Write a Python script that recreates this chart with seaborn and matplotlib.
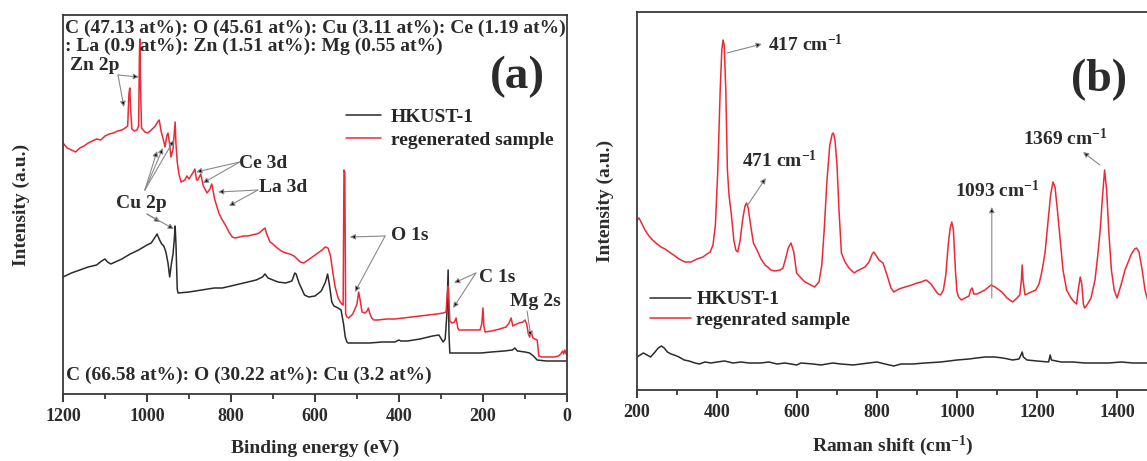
import numpy as np
import pandas as pd
import seaborn as sns
import matplotlib.pyplot as plt
from matplotlib.ticker import MultipleLocator

# ---- (a) XPS survey: binding energy (eV) vs intensity (a.u.)
xps_hkust_x = [1200, 1180, 1160, 1140, 1120, 1108, 1100, 1094, 1086, 1060, 1040, 1020, 1000, 990, 982, 976,
               970, 965, 960, 955, 950, 946, 942, 938, 935, 933, 931, 928, 926, 900, 870, 840, 821, 800, 780,
               760, 740, 725, 719, 712, 700, 688, 670, 655, 648, 645, 638, 625, 615, 600, 585, 575, 570, 566,
               560, 555, 545, 538, 532, 528, 524, 521, 500, 470, 440, 410, 400, 396, 380, 350, 320, 305, 295,
               290, 286, 283, 281, 279, 260, 240, 205, 180, 150, 130, 124, 118, 100, 89, 80, 71, 50, 30, 10, 0]
xps_hkust_y = [117, 121, 124, 127, 129, 133, 135, 132, 130, 135, 140, 144, 149, 151, 156, 160,
               154, 150, 148, 142, 131, 117, 130, 140, 155, 168, 150, 105, 101, 102, 104, 106, 106, 108, 110,
               112, 114, 117, 120, 116, 114, 112, 111, 113, 121, 120, 111, 99, 97, 98, 103, 112, 120, 110,
               92, 88, 86, 84, 70, 57, 52, 51, 51, 51, 52, 52, 54, 53, 53, 55, 58, 59, 52,
               55, 80, 124, 60, 41, 41, 41, 41, 42, 43, 44, 46, 43, 42, 41, 38, 34, 33, 33, 33, 33]

xps_regen_x = [1200, 1190, 1180, 1170, 1160, 1150, 1140, 1130, 1120, 1110, 1100, 1090, 1080, 1070, 1060,
               1052, 1046, 1043, 1041, 1039, 1036, 1030, 1024, 1020, 1018, 1017, 1015, 1013, 1005, 998, 990,
               980, 975, 971, 966, 962, 957, 953, 950, 946, 943, 938, 935, 933, 931, 928, 924, 919, 910, 905,
               900, 891, 886, 882, 879, 872, 866, 862, 857, 850, 846, 843, 839, 834, 829, 822, 812, 805, 797,
               790, 780, 770, 760, 750, 740, 733, 725, 719, 715, 707, 700, 690, 680, 670, 660, 650, 645, 635,
               627, 620, 610, 600, 590, 583, 576, 569, 563, 557, 552, 545, 540, 536, 533, 531, 529, 527, 524,
               520, 510, 500, 496, 493, 488, 481, 476, 473, 469, 465, 460, 450, 430, 410, 390, 370, 350, 330,
               310, 295, 288, 285, 283, 281, 279, 274, 268, 264, 260, 257, 240, 220, 207, 203, 200, 198, 195,
               180, 160, 145, 138, 133, 129, 120, 114, 105, 100, 96, 92, 89, 85, 81, 76, 71, 67, 60, 50, 40,
               30, 20, 15, 10, 8, 5, 2, 0]
xps_regen_y = [251, 246, 244, 242, 246, 248, 251, 253, 255, 254, 258, 260, 261, 263, 264,
               266, 268, 300, 306, 285, 265, 263, 264, 268, 340, 355, 300, 266, 262, 261, 264,
               268, 272, 274, 262, 256, 247, 258, 261, 250, 237, 245, 262, 272, 250, 232, 220, 212, 214, 218,
               215, 221, 225, 214, 214, 220, 208, 205, 201, 205, 210, 204, 195, 188, 181, 175, 168, 162, 157,
               156, 157, 158, 158, 159, 160, 161, 164, 166, 160, 152, 150, 146, 143, 141, 140, 138, 136, 132,
               131, 133, 136, 139, 142, 144, 147, 146, 138, 120, 107, 96, 92, 90, 89, 224, 222, 80, 77,
               76, 80, 90, 102, 95, 82, 81, 83, 86, 80, 76, 74, 74, 75, 75, 76, 77, 78, 79,
               80, 81, 82, 100, 108, 92, 73, 71, 72, 76, 66, 64, 64, 64, 64, 70, 86, 68, 62,
               63, 65, 67, 71, 76, 68, 70, 71, 72, 74, 70, 60, 57, 62, 56, 55, 54, 38, 37, 37, 37,
               37, 38, 40, 43, 40, 44, 40, 39]

# ---- (b) Raman: shift (cm-1) vs intensity (a.u.)
raman_hkust_x = [200, 208, 216, 225, 234, 245, 253, 261, 268, 276, 285, 293, 305, 318, 330, 345, 356, 370,
                 385, 400, 419, 440, 460, 480, 509, 530, 550, 570, 599, 610, 640, 660, 689, 710, 740, 760,
                 779, 800, 820, 842, 860, 890, 920, 959, 980, 1000, 1030, 1049, 1070, 1094, 1115, 1139,
                 1155, 1160, 1163, 1166, 1175, 1200, 1229, 1233, 1236, 1260, 1290, 1319, 1350, 1380, 1410,
                 1440, 1463, 1480]
raman_hkust_y = [33, 35, 37, 35, 33, 38, 42, 44, 42, 38, 36, 35, 33, 30, 29, 27, 26, 28,
                 27, 28, 29, 27, 28, 27, 27, 28, 26, 27, 25, 27, 26, 25, 27, 26, 25, 26,
                 27, 28, 26, 24, 26, 26, 27, 28, 29, 30, 31, 32, 33, 33, 32, 30,
                 31, 35, 38, 33, 30, 29, 28, 35, 30, 28, 28, 27, 27, 27, 28,
                 27, 27, 27]

raman_regen_x = [200, 205, 210, 220, 230, 239, 250, 260, 270, 284, 295, 305, 320, 335, 350, 365, 375, 383,
                 390, 396, 402, 408, 412, 415, 418, 422, 426, 430, 436, 442, 447, 452, 458, 464, 470, 474,
                 478, 484, 491, 500, 510, 520, 527, 535, 545, 558, 565, 572, 578, 585, 592, 599, 610, 620,
                 630, 644, 655, 662, 668, 675, 682, 688, 691, 695, 700, 705, 711, 720, 730, 743, 750, 760,
                 770, 780, 788, 792, 797, 805, 815, 825, 835, 842, 855, 870, 887, 900, 910, 923, 935, 945,
                 953, 959, 966, 972, 978, 983, 987, 991, 996, 1000, 1004, 1011, 1020, 1030, 1034, 1038, 1042,
                 1050, 1060, 1070, 1085, 1095, 1105, 1112, 1125, 1139, 1150, 1157, 1161, 1163, 1165, 1170,
                 1180, 1197, 1205, 1212, 1220, 1228, 1234, 1240, 1245, 1251, 1258, 1265, 1274, 1285, 1293,
                 1299, 1303, 1308, 1312, 1316, 1319, 1325, 1335, 1345, 1352, 1358, 1364, 1369, 1374, 1380,
                 1386, 1393, 1400, 1410, 1420, 1427, 1436, 1444, 1449, 1455, 1463, 1470, 1480]
raman_regen_y = [170, 172, 168, 160, 154, 150, 146, 143, 141, 137, 134, 131, 128, 128, 131, 133, 136, 138,
                 145, 165, 220, 300, 340, 350, 345, 300, 220, 195, 175, 150, 140, 138, 150, 170, 184, 187,
                 182, 165, 147, 140, 131, 125, 123, 120, 119, 120, 122, 132, 142, 147, 138, 117, 112, 108,
                 106, 103, 108, 125, 160, 210, 245, 256, 257, 250, 225, 180, 137, 128, 122, 117, 119, 121,
                 123, 128, 136, 138, 135, 130, 127, 115, 102, 98, 101, 103, 105, 107, 108, 110, 106, 100,
                 96, 95, 100, 115, 145, 162, 168, 160, 120, 98, 93, 90, 92, 94, 100, 102, 96,
                 96, 98, 100, 105, 103, 100, 98, 92, 88, 92, 95, 110, 125, 110, 95,
                 97, 100, 106, 118, 137, 170, 195, 208, 203, 180, 150, 120, 100, 92, 88,
                 86, 100, 113, 106, 86, 82, 85, 92, 110, 135, 160, 195, 220, 200, 155,
                 120, 100, 92, 105, 120, 127, 136, 141, 142, 138, 120, 100, 85]

legend_a = ["HKUST-1", "regenerated sample"]
legend_b = ["HKUST-1", "regenrated sample"]
BLACK = "#2b2b2b"
RED = "#ec2a35"


def style_axis(ax, xlim, ylim):
    ax.set_xlim(*xlim)
    ax.set_ylim(*ylim)
    ax.set_yticks([])
    ax.xaxis.set_major_locator(MultipleLocator(200))
    ax.xaxis.set_minor_locator(MultipleLocator(100))
    ax.tick_params(axis="x", which="major", direction="out", length=6, width=1.3,
                   labelsize=13, pad=4, colors=BLACK, bottom=True)
    ax.tick_params(axis="x", which="minor", direction="out", length=3.5, width=1.2,
                   colors=BLACK, bottom=True)
    for lab in ax.get_xticklabels():
        lab.set_fontweight("bold")
    for s in ax.spines.values():
        s.set_linewidth(1.3)
        s.set_color("#3a3a3a")


def arrow(ax, head, tail):
    ax.annotate("", xy=head, xytext=tail,
                arrowprops=dict(arrowstyle="-|>", ec="#8a8a8a", fc="black", lw=0.8,
                                mutation_scale=8, shrinkA=0, shrinkB=0))


def main():
    sns.set_theme(style="white")
    plt.rcParams["font.family"] = ["Liberation Serif", "DejaVu Serif"]
    plt.rcParams["font.weight"] = "bold"
    plt.rcParams["mathtext.fontset"] = "custom"
    plt.rcParams["mathtext.rm"] = "Liberation Serif:bold"
    plt.rcParams["mathtext.bf"] = "Liberation Serif:bold"
    plt.rcParams["mathtext.default"] = "rm"

    fig = plt.figure(figsize=(11.47, 4.61), dpi=100)
    ax1 = fig.add_axes([63 / 1147, 67 / 461, 504 / 1147, 379 / 461])
    ax2 = fig.add_axes([637 / 1147, 71 / 461, 512 / 1147, 378 / 461])

    # ---------- panel (a)
    sns.lineplot(x=xps_hkust_x, y=xps_hkust_y, ax=ax1, color=BLACK, lw=1.1,
                 estimator=None, sort=False, label=legend_a[0])
    sns.lineplot(x=xps_regen_x, y=xps_regen_y, ax=ax1, color=RED, lw=1.1,
                 estimator=None, sort=False, label=legend_a[1])
    style_axis(ax1, (1200, 0), (0, 379))
    ax1.set_xlabel("Binding energy (eV)", fontsize=14, fontweight="bold", color=BLACK)
    ax1.set_ylabel("Intensity (a.u.)", fontsize=14, fontweight="bold", color=BLACK)
    ax1.yaxis.set_label_coords(-0.065, 0.5)
    ax1.xaxis.set_label_coords(0.5, -0.12)
    ax1.legend(loc="center left", bbox_to_anchor=(0.5615, 0.70), frameon=False,
               fontsize=14, handlelength=1.8, handletextpad=0.5, labelspacing=0.25,
               borderpad=0, borderaxespad=0)

    tkw = dict(fontsize=14, fontweight="bold", color=BLACK)
    ax1.text(0.004, 0.966, "C (47.13 at%): O (45.61 at%): Cu (3.11 at%): Ce (1.19 at%)",
             transform=ax1.transAxes, ha="left", va="center", **tkw)
    ax1.text(0.004, 0.916, ": La (0.9 at%): Zn (1.51 at%): Mg (0.55 at%)",
             transform=ax1.transAxes, ha="left", va="center", **tkw)
    ax1.text(0.006, 0.05, "C (66.58 at%): O (30.22 at%): Cu (3.2 at%)",
             transform=ax1.transAxes, ha="left", va="center", **tkw)
    ax1.text(119, 317, "(a)", ha="center", va="center", fontsize=34, fontweight="bold", color=BLACK)

    ax1.text(1124, 329, "Zn 2p", ha="center", va="center", **tkw)
    arrow(ax1, (1055, 287), (1069, 319))
    arrow(ax1, (1019, 317), (1069, 319))
    ax1.text(724, 231, "Ce 3d", ha="center", va="center", **tkw)
    arrow(ax1, (883, 222), (779, 232))
    arrow(ax1, (867, 211), (779, 232))
    ax1.text(676, 206, "La 3d", ha="center", va="center", **tkw)
    arrow(ax1, (831, 202), (736, 204))
    arrow(ax1, (805, 188), (736, 204))
    ax1.text(1014, 191, "Cu 2p", ha="center", va="center", **tkw)
    arrow(ax1, (976, 243), (1005, 204))
    arrow(ax1, (962, 246), (1005, 204))
    arrow(ax1, (936, 254), (1005, 204))
    arrow(ax1, (969, 172), (1000, 180))
    arrow(ax1, (936, 165), (1000, 180))
    ax1.text(374, 159, "O 1s", ha="center", va="center", **tkw)
    arrow(ax1, (517, 157), (433, 158))
    arrow(ax1, (505, 102), (433, 158))
    ax1.text(167, 117, "C 1s", ha="center", va="center", **tkw)
    arrow(ax1, (269, 111), (217, 121))
    arrow(ax1, (271, 86), (217, 121))
    ax1.text(76, 93, "Mg 2s", ha="center", va="center", **tkw)
    arrow(ax1, (86, 57), (95, 83))

    # ---------- panel (b)
    sns.lineplot(x=raman_hkust_x, y=raman_hkust_y, ax=ax2, color=BLACK, lw=1.1,
                 estimator=None, sort=False, label=legend_b[0])
    sns.lineplot(x=raman_regen_x, y=raman_regen_y, ax=ax2, color=RED, lw=1.1,
                 estimator=None, sort=False, label=legend_b[1])
    style_axis(ax2, (200, 1480), (0, 378))
    ax2.set_xlabel("Raman shift (cm$^{-1}$)", fontsize=14, fontweight="bold", color=BLACK)
    ax2.set_ylabel("Intensity (a.u.)", fontsize=14, fontweight="bold", color=BLACK)
    ax2.yaxis.set_label_coords(-0.045, 0.5)
    ax2.xaxis.set_label_coords(0.5, -0.115)
    ax2.legend(loc="center left", bbox_to_anchor=(0.025, 0.212), frameon=False,
               fontsize=14, handlelength=2.1, handletextpad=0.3, labelspacing=0.15,
               borderpad=0, borderaxespad=0)

    ax2.text(1355, 310, "(b)", ha="center", va="center", fontsize=33, fontweight="bold", color=BLACK)
    ax2.text(527, 346, "417 cm$^{-1}$", ha="left", va="center", **tkw)
    arrow(ax2, (512, 346), (425, 337))
    ax2.text(557, 230, "471 cm$^{-1}$", ha="center", va="center", **tkw)
    arrow(ax2, (522, 212), (477, 185))
    ax2.text(1100, 200, "1093 cm$^{-1}$", ha="center", va="center", **tkw)
    arrow(ax2, (1087, 183), (1087, 92))
    ax2.text(1272, 252, "1369 cm$^{-1}$", ha="center", va="center", **tkw)
    arrow(ax2, (1315, 238), (1357, 225))

    fig.savefig("out.png", dpi=100)


if __name__ == "__main__":
    main()
